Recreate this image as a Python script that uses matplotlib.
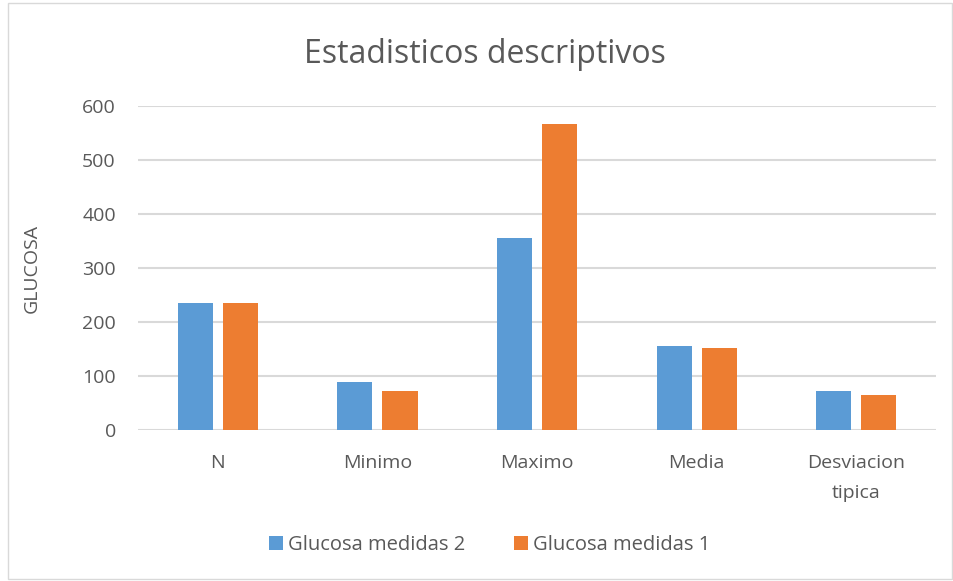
import matplotlib.pyplot as plt
import numpy as np
from matplotlib.patches import Rectangle

# Datos
categorias = ["N", "Minimo", "Maximo", "Media", "Desviacion\ntipica"]
glucosa_2 = [236, 89, 356, 156, 73]
glucosa_1 = [236, 72, 567, 152, 64]
series = ["Glucosa medidas 2", "Glucosa medidas 1"]
colores = ["#5B9BD5", "#ED7D31"]

plt.rcParams['font.family'] = ['Open Sans', 'DejaVu Sans']
gris = "#595959"

fig = plt.figure(figsize=(9.54, 5.81), dpi=100)
ax = fig.add_axes([0.1447, 0.2599, 0.8365, 0.5577])

# Borde del grafico
fig.patches.append(Rectangle((0.008, 0.004), 0.99, 0.99, transform=fig.transFigure,
                             fill=False, edgecolor="#D9D9D9", linewidth=1))

x = np.arange(len(categorias))
ancho = 0.22
sep = 0.0627
ax.bar(x - ancho / 2 - sep / 2, glucosa_2, ancho, color=colores[0], label=series[0])
ax.bar(x + ancho / 2 + sep / 2, glucosa_1, ancho, color=colores[1], label=series[1])

ax.set_xlim(-0.5, len(categorias) - 0.5)
ax.set_ylim(0, 600)
ax.set_yticks(range(0, 601, 100))
ax.yaxis.grid(True, color="#D9D9D9", linewidth=1.5)
ax.set_axisbelow(True)
for s in ["top", "right", "left", "bottom"]:
    ax.spines[s].set_visible(False)
ax.tick_params(axis="both", length=0, labelsize=14, colors=gris)
ax.tick_params(axis="x", pad=17)
ax.tick_params(axis="y", pad=16)
ax.set_xticks(x)
ax.set_xticklabels(categorias, linespacing=1.85)

ax.set_ylabel("GLUCOSA", fontsize=14, color=gris, labelpad=30)
fig.text(0.508, 0.907, "Estadisticos descriptivos", fontsize=23, color=gris,
         ha="center", va="center")

fig.legend(loc="center", bbox_to_anchor=(0.513, 0.062), ncol=2, frameon=False,
           fontsize=14.5, labelcolor=gris, handlelength=0.7, handleheight=0.7,
           handletextpad=0.25, columnspacing=2.4)

fig.savefig("out.png", dpi=100)
